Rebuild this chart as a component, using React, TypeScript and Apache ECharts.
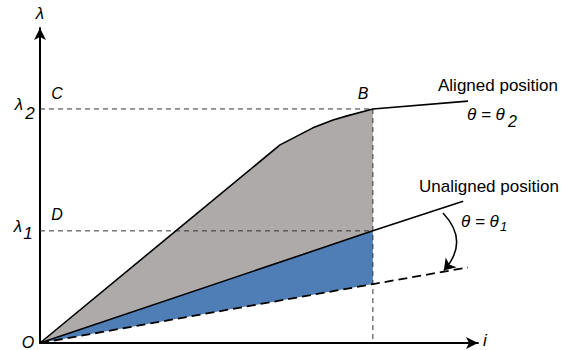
import React, { useEffect, useRef } from "react";
import * as echarts from "echarts";

// data (current i on x, flux linkage λ on y; axes 0..10 arbitrary units)
const alignedCurve: [number, number][] = [
  [0, 0], [5.48, 6.29], [6.23, 6.83], [6.69, 7.08], [7.01, 7.21], [7.6, 7.43], [9.77, 7.68],
];
const unalignedLine: [number, number][] = [[0, 0], [7.6, 3.56], [9.66, 4.5]];
const satLine: [number, number][] = [[0, 0], [7.6, 1.87], [9.77, 2.4]];
const i1 = 7.6;
const lambda1 = 3.56;
const lambda2 = 7.43;
const lambdaAStar = 1.87;
const grayRegion: [number, number][] = [
  ...alignedCurve.slice(0, 6),
  [i1, lambda1],
  [0, 0],
];
const blueRegion: [number, number][] = [[0, 0], [i1, lambda1], [i1, lambdaAStar]];
const lambda2Guide: [number, number][] = [[0, lambda2], [i1, lambda2], [i1, 0]];
const lambda1Guide: [number, number][] = [[0, lambda1], [i1, lambda1]];
const thetaArrow: [number, number][] = [[9.2, 4.13], [9.22, 2.3]];

const FONT = "Liberation Sans, Arial, sans-serif";

function polySeries(points: [number, number][], color: string) {
  return {
    type: "custom",
    coordinateSystem: "cartesian2d",
    silent: true,
    data: points,
    encode: { x: 0, y: 1 },
    renderItem: (params: any, api: any) => {
      if (params.dataIndex !== 0) return null;
      const pts = points.map((p) => api.coord(p));
      return { type: "polygon", shape: { points: pts }, style: { fill: color, stroke: "none" } };
    },
    z: 1,
  };
}

function txt(text: string, x: number, y: number, size: number, italic = true, align = "center") {
  return {
    type: "text",
    x,
    y,
    style: {
      text,
      fontSize: size,
      fontStyle: italic ? "italic" : "normal",
      fontFamily: FONT,
      fill: "#000",
      align,
      verticalAlign: "middle",
    },
  };
}

export default function App() {
  const ref = useRef<HTMLDivElement>(null);
  useEffect(() => {
    if (!ref.current) return;
    const chart = echarts.init(ref.current, null, { renderer: "svg" });
    chart.setOption({
      animation: false,
      backgroundColor: "#fff",
      grid: { left: 40, right: 94, top: 28, bottom: 7 },
      xAxis: {
        type: "value",
        min: 0,
        max: 10,
        axisLine: { show: true, symbol: ["none", "arrow"], symbolSize: [9, 12], lineStyle: { color: "#000", width: 2 } },
        axisTick: { show: false },
        axisLabel: { show: false },
        splitLine: { show: false },
      },
      yAxis: {
        type: "value",
        min: 0,
        max: 10,
        axisLine: { show: true, symbol: ["none", "arrow"], symbolSize: [9, 12], lineStyle: { color: "#000", width: 2 } },
        axisTick: { show: false },
        axisLabel: { show: false },
        splitLine: { show: false },
      },
      series: [
        polySeries(grayRegion, "#aeaaa9"),
        polySeries(blueRegion, "#4f7db6"),
        {
          type: "line",
          data: lambda2Guide,
          symbol: "none",
          lineStyle: { color: "#333", width: 1, type: [5, 4] },
          z: 2,
        },
        {
          type: "line",
          data: lambda1Guide,
          symbol: "none",
          lineStyle: { color: "#333", width: 1, type: [5, 4] },
          z: 2,
        },
        {
          type: "line",
          data: alignedCurve,
          symbol: "none",
          lineStyle: { color: "#000", width: 1.6 },
          z: 3,
        },
        {
          type: "line",
          data: unalignedLine,
          symbol: "none",
          lineStyle: { color: "#000", width: 1.6 },
          z: 3,
        },
        {
          type: "line",
          data: satLine,
          symbol: "none",
          lineStyle: { color: "#000", width: 1.8, type: [9, 5] },
          z: 3,
        },
        {
          type: "lines",
          coordinateSystem: "cartesian2d",
          symbol: ["none", "arrow"],
          symbolSize: 11,
          lineStyle: { color: "#000", width: 1.5, curveness: 0.46, opacity: 1 },
          data: [{ coords: thetaArrow }],
          z: 4,
        },
      ],
      graphic: [
        txt("λ", 40, 13, 17),
        txt("λ", 19, 104, 17),
        txt("2", 30, 113, 17),
        txt("λ", 18, 226, 17),
        txt("1", 28, 233, 17),
        txt("C", 57, 93, 16),
        txt("B", 363, 93, 16),
        txt("D", 57, 214, 16),
        txt("A", 361, 214, 16),
        txt("A", 357, 279, 16),
        txt("*", 364, 270, 11, false),
        txt("O", 28, 342, 16),
        txt("i", 485, 340, 17),
        txt("Aligned position", 438, 85, 17, false, "left"),
        txt("θ = θ", 467, 114, 17, true, "left"),
        txt("2", 508, 121, 16, true, "left"),
        txt("Unaligned position", 419, 186, 17, false, "left"),
        txt("θ = θ", 461, 221, 17, true, "left"),
        txt("1", 500, 226, 13, true, "left"),
      ],
    });
    return () => chart.dispose();
  }, []);
  return <div ref={ref} style={{ width: 572, height: 350, position: "absolute", left: 0, top: 0 }} />;
}
